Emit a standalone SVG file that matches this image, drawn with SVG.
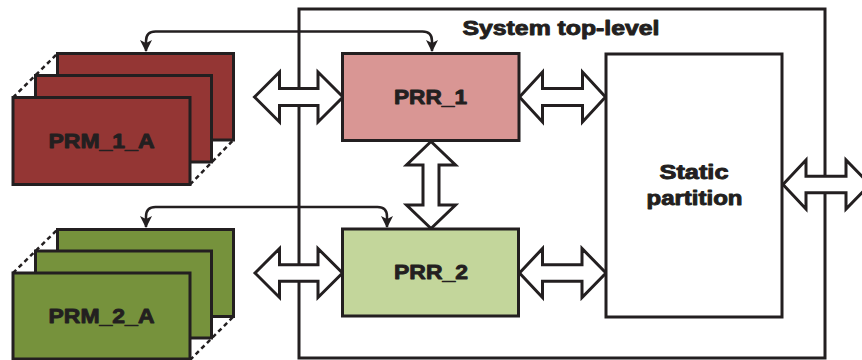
<svg xmlns="http://www.w3.org/2000/svg" width="862" height="360" viewBox="0 0 862 360">
<style>
  .box{stroke:#231F20;stroke-width:3;stroke-linejoin:miter}
  .prm1{fill:#943634}
  .prm2{fill:#76923C}
  .dash{stroke:#231F20;stroke-width:2.5;stroke-dasharray:4.5 3.5;fill:none}
  .blk{fill:#FFFFFF;stroke:#231F20;stroke-width:3;stroke-linejoin:miter}
  .con{fill:none;stroke:#231F20;stroke-width:2.5}
  .t{font-family:"Liberation Sans",Arial,sans-serif;font-weight:bold;fill:#231F20;stroke:#231F20;stroke-width:0.9;stroke-linejoin:round}
</style>
<defs>
  <marker id="ah" markerUnits="userSpaceOnUse" markerWidth="14" markerHeight="14" viewBox="0 0 14 14" refX="11" refY="7" orient="auto-start-reverse">
    <path d="M0,1 L12,7 L0,13 L3,7 Z" fill="#231F20"/>
  </marker>
</defs>

<g id="system">
  <rect class="box" x="299" y="9" width="526" height="349" fill="#FFFFFF"/>
  <text class="t" x="462.5" y="35" font-size="19.5" textLength="197" lengthAdjust="spacingAndGlyphs">System top-level</text>
</g>

<g id="prm1">
  <rect class="box prm1" x="57.5" y="53.5" width="176" height="86.5"/>
  <line class="dash" x1="13" y1="97.5" x2="57.5" y2="53.5"/>
  <line class="dash" x1="190" y1="184.5" x2="233.5" y2="140"/>
  <rect class="box prm1" x="35.5" y="75.5" width="176" height="86.5"/>
  <rect class="box prm1" x="13" y="97.5" width="177" height="87"/>
  <text class="t" x="101.5" y="148" font-size="21" text-anchor="middle" textLength="106" lengthAdjust="spacingAndGlyphs">PRM_1_A</text>
</g>

<g id="prm2">
  <rect class="box prm2" x="57.5" y="229.5" width="176" height="87"/>
  <line class="dash" x1="13" y1="273" x2="57.5" y2="229.5"/>
  <line class="dash" x1="190" y1="360" x2="233.5" y2="316.5"/>
  <rect class="box prm2" x="35.5" y="251" width="176" height="87"/>
  <rect class="box prm2" x="13" y="273" width="177" height="86"/>
  <text class="t" x="101.5" y="322.7" font-size="21" text-anchor="middle" textLength="106" lengthAdjust="spacingAndGlyphs">PRM_2_A</text>
</g>

<g id="connectors">
  <path class="con" d="M146,51 L146,41 Q146,31.5 155.5,31.5 L422.5,31.5 Q432,31.5 432,41 L432,51" marker-start="url(#ah)" marker-end="url(#ah)"/>
  <path class="con" d="M146,227 L146,216.5 Q146,207 155.5,207 L377.5,207 Q387,207 387,216.5 L387,227" marker-start="url(#ah)" marker-end="url(#ah)"/>
  <polygon class="blk" points="254.5,97 279.5,72 279.5,88.5 318,88.5 318,72 343,97 318,122 318,105.5 279.5,105.5 279.5,122"/>
  <polygon class="blk" points="519.5,97 542.5,72 542.5,88.5 582.5,88.5 582.5,72 605.5,97 582.5,122 582.5,105.5 542.5,105.5 542.5,122"/>
  <polygon class="blk" points="255,273 279.5,248.5 279.5,264.7 318,264.7 318,248.5 342.5,273 318,297.5 318,281.3 279.5,281.3 279.5,297.5"/>
  <polygon class="blk" points="519.5,273 542.5,248.5 542.5,264.7 582,264.7 582,248.5 606,273 582,297.5 582,281.3 542.5,281.3 542.5,297.5"/>
  <polygon class="blk" points="783,184.5 806,160 806,176.2 846,176.2 846,160 870,184.5 846,209 846,192.8 806,192.8 806,209"/>
  <polygon class="blk" points="431,141.5 455.5,165 439,165 439,205 455.5,205 431,228.5 406.5,205 423,205 423,165 406.5,165"/>
</g>

<g id="prr1">
  <rect class="box" x="342.5" y="53.5" width="176.5" height="87" fill="#D99694"/>
  <text class="t" x="430.5" y="104" font-size="21" text-anchor="middle" textLength="73" lengthAdjust="spacingAndGlyphs">PRR_1</text>
</g>

<g id="prr2">
  <rect class="box" x="342.5" y="229" width="176" height="87" fill="#C3D69B"/>
  <text class="t" x="431" y="278.5" font-size="21" text-anchor="middle" textLength="74" lengthAdjust="spacingAndGlyphs">PRR_2</text>
</g>

<g id="static">
  <rect class="box" x="606" y="54" width="176" height="263" fill="#FFFFFF"/>
  <text class="t" x="694" y="178.5" font-size="19.5" text-anchor="middle" textLength="69" lengthAdjust="spacingAndGlyphs">Static</text>
  <text class="t" x="694.5" y="204.5" font-size="19.5" text-anchor="middle" textLength="96" lengthAdjust="spacingAndGlyphs">partition</text>
</g>
</svg>
